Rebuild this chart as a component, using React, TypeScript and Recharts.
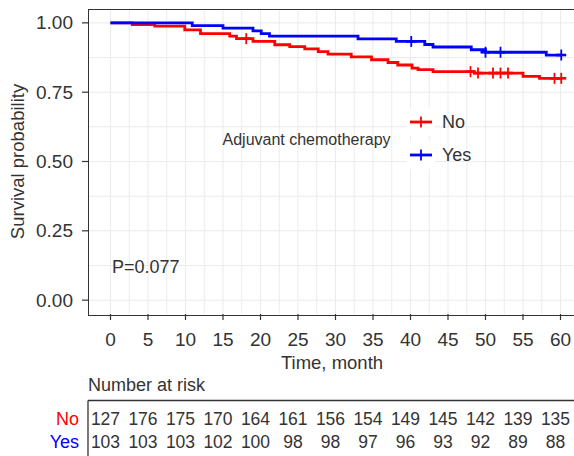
import React from "react";
import {
  ComposedChart,
  Line,
  Scatter,
  XAxis,
  YAxis,
  CartesianGrid,
} from "recharts";

// ---- Data ----
const TIMES_NO = [0, 2.9, 5.9, 9.9, 12, 15.9, 16.8, 19, 21.9, 23.9, 25.9, 27.7, 29, 32.1, 34.8, 37, 38.3, 40.2, 41, 43, 48.5, 55, 57.2, 60.1];
const SURV_NO = [1, 0.994, 0.988, 0.975, 0.961, 0.952, 0.943, 0.933, 0.921, 0.914, 0.906, 0.896, 0.887, 0.877, 0.867, 0.857, 0.848, 0.837, 0.831, 0.824, 0.819, 0.807, 0.8, 0.8];
const CENSOR_NO = [18.1, 48, 49, 51, 52, 53, 59.2, 60.1];

const TIMES_YES = [0, 10.9, 15, 19, 20.1, 21.2, 33, 38.1, 41.9, 43, 48.1, 50, 58.1, 60.1];
const SURV_YES = [1, 0.99, 0.981, 0.971, 0.961, 0.952, 0.942, 0.933, 0.922, 0.913, 0.903, 0.894, 0.884, 0.884];
const CENSOR_YES = [40.1, 50, 52, 60.1];

const X_TICKS = [0, 5, 10, 15, 20, 25, 30, 35, 40, 45, 50, 55, 60];
const Y_TICKS = [0, 0.25, 0.5, 0.75, 1];
const GRID_X = [0, 2.5, 5, 7.5, 10, 12.5, 15, 17.5, 20, 22.5, 25, 27.5, 30, 32.5, 35, 37.5, 40, 42.5, 45, 47.5, 50, 52.5, 55, 57.5, 60, 62.5];
const GRID_Y = [0, 0.125, 0.25, 0.375, 0.5, 0.625, 0.75, 0.875, 1];

const RISK_NO = [127, 176, 175, 170, 164, 161, 156, 154, 149, 145, 142, 139, 135];
const RISK_YES = [103, 103, 103, 102, 100, 98, 98, 97, 96, 93, 92, 89, 88];

const GROUPS = ["No", "Yes"];
const COLORS = ["#FF0000", "#0000FF"];

// ---- helpers ----
const toPoints = (times: number[], surv: number[]) =>
  times.map((t, i) => ({ t, s: surv[i] }));

const survAt = (times: number[], surv: number[], t: number) => {
  let v = surv[0];
  for (let i = 0; i < times.length; i++) if (times[i] <= t) v = surv[i];
  return v;
};

const censorPoints = (cens: number[], times: number[], surv: number[]) =>
  cens.map((t) => ({ t, s: survAt(times, surv, t) }));

const dataNo = toPoints(TIMES_NO, SURV_NO);
const dataYes = toPoints(TIMES_YES, SURV_YES);
const censNo = censorPoints(CENSOR_NO, TIMES_NO, SURV_NO);
const censYes = censorPoints(CENSOR_YES, TIMES_YES, SURV_YES);

const FONT = '"Liberation Sans", Arial, Helvetica, sans-serif';
const TEXT = "#333333";

const plusShape = (color: string) => (p: any) => {
  const { cx, cy } = p;
  if (cx == null || cy == null) return <g />;
  return (
    <g>
      <line x1={cx - 5} y1={cy} x2={cx + 5} y2={cy} stroke={color} strokeWidth={2.6} />
      <line x1={cx} y1={cy - 5.5} x2={cx} y2={cy + 5.5} stroke={color} strokeWidth={1.8} />
    </g>
  );
};

const XTick = (props: any) => {
  const { x, payload } = props;
  const idx = X_TICKS.indexOf(payload.value);
  return (
    <g style={{ fontFamily: FONT }}>
      <text x={x} y={339} textAnchor="middle" dominantBaseline="central" fontSize={19} fill={TEXT}>
        {payload.value}
      </text>
      <text x={x - 5} y={419} textAnchor="middle" dominantBaseline="central" fontSize={17.5} fill={TEXT}>
        {RISK_NO[idx]}
      </text>
      <text x={x - 5} y={442} textAnchor="middle" dominantBaseline="central" fontSize={17.5} fill={TEXT}>
        {RISK_YES[idx]}
      </text>
    </g>
  );
};

const YTick = (props: any) => {
  const { y, payload } = props;
  return (
    <text x={73} y={y} textAnchor="end" dominantBaseline="central" fontSize={19} fill={TEXT} style={{ fontFamily: FONT }}>
      {Number(payload.value).toFixed(2)}
    </text>
  );
};

export default function App() {
  return (
    <div
      style={{
        position: "absolute",
        left: 0,
        top: 0,
        width: 574,
        height: 456,
        overflow: "hidden",
        background: "#ffffff",
        fontFamily: FONT,
      }}
    >
      <ComposedChart
        width={620}
        height={456}
        margin={{ top: 9, right: 37, bottom: 112, left: 0 }}
        style={{ position: "absolute", left: 0, top: 0 }}
      >
        <CartesianGrid
          stroke="#ebebeb"
          strokeWidth={1}
          verticalValues={GRID_X}
          horizontalValues={GRID_Y}
        />
        <XAxis
          type="number"
          dataKey="t"
          domain={[-3, 63]}
          ticks={X_TICKS}
          allowDataOverflow
          height={30}
          tickSize={6}
          tickLine={{ stroke: TEXT, strokeWidth: 1.2 }}
          axisLine={false}
          tick={<XTick />}
          interval={0}
        />
        <YAxis
          type="number"
          domain={[-0.05, 1.05]}
          ticks={Y_TICKS}
          allowDataOverflow
          width={88}
          tickSize={6}
          tickLine={{ stroke: TEXT, strokeWidth: 1.2 }}
          axisLine={false}
          tick={<YTick />}
          interval={0}
        />
        <Line
          data={dataNo}
          dataKey="s"
          type="stepAfter"
          stroke={COLORS[0]}
          strokeWidth={2.8}
          dot={false}
          isAnimationActive={false}
        />
        <Line
          data={dataYes}
          dataKey="s"
          type="stepAfter"
          stroke={COLORS[1]}
          strokeWidth={2.8}
          dot={false}
          isAnimationActive={false}
        />
        <Scatter data={censNo} dataKey="s" shape={plusShape(COLORS[0])} isAnimationActive={false} />
        <Scatter data={censYes} dataKey="s" shape={plusShape(COLORS[1])} isAnimationActive={false} />
      </ComposedChart>

      {/* panel frame */}
      <div
        style={{
          position: "absolute",
          left: 87.5,
          top: 8.5,
          width: 600,
          height: 305,
          border: "1.3px solid #333",
          pointerEvents: "none",
        }}
      />

      {/* overlay texts */}
      <svg width={574} height={456} style={{ position: "absolute", left: 0, top: 0, pointerEvents: "none" }}>
        <text
          x={0}
          y={0}
          transform="translate(17,161.5) rotate(-90)"
          textAnchor="middle"
          dominantBaseline="central"
          fontSize={18.5}
          fill={TEXT}
          style={{ fontFamily: FONT }}
        >
          Survival probability
        </text>
        <text x={332} y={362} textAnchor="middle" dominantBaseline="central" fontSize={18.5} fill={TEXT} style={{ fontFamily: FONT }}>
          Time, month
        </text>
        <text x={112} y={267} dominantBaseline="central" fontSize={18} fill={TEXT} style={{ fontFamily: FONT }}>
          P=0.077
        </text>

        {/* legend */}
        <text x={222.5} y={139.5} dominantBaseline="central" fontSize={16} fill={TEXT} style={{ fontFamily: FONT }}>
          Adjuvant chemotherapy
        </text>
        {GROUPS.map((g, i) => {
          const cy = i === 0 ? 122 : 155;
          return (
            <g key={g}>
              <rect x={407} y={cy - 14} width={28} height={28} fill="#ffffff" />
              <line x1={410} y1={cy} x2={432} y2={cy} stroke={COLORS[i]} strokeWidth={2.8} />
              <line x1={421} y1={cy - 5.5} x2={421} y2={cy + 5.5} stroke={COLORS[i]} strokeWidth={1.8} />
              <text x={442} y={cy} dominantBaseline="central" fontSize={18} fill={TEXT} style={{ fontFamily: FONT }}>
                {g}
              </text>
            </g>
          );
        })}

        {/* risk table */}
        <text x={88} y={385} dominantBaseline="central" fontSize={18} fill={TEXT} style={{ fontFamily: FONT }}>
          Number at risk
        </text>
        <line x1={88} y1={400.5} x2={574} y2={400.5} stroke="#333" strokeWidth={1.3} />
        <line x1={88} y1={400.5} x2={88} y2={456} stroke="#333" strokeWidth={1.3} />
        {GROUPS.map((g, i) => (
          <text
            key={g}
            x={79}
            y={i === 0 ? 419 : 442}
            textAnchor="end"
            dominantBaseline="central"
            fontSize={18}
            fill={COLORS[i]}
            style={{ fontFamily: FONT }}
          >
            {g}
          </text>
        ))}
      </svg>
    </div>
  );
}
